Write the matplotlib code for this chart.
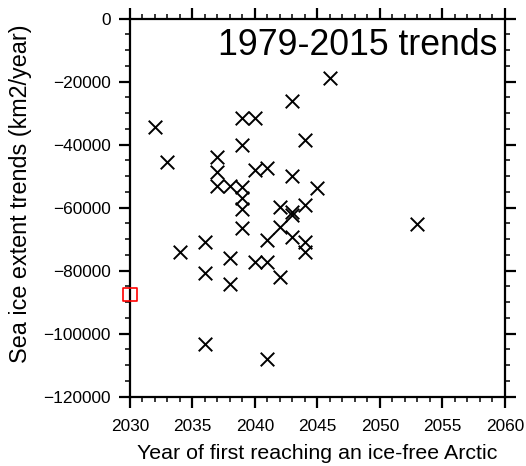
import numpy as np
import matplotlib
matplotlib.use("Agg")
import matplotlib.pyplot as plt
from matplotlib.ticker import MultipleLocator

plt.rcParams['font.family'] = ['Liberation Sans', 'DejaVu Sans']

# year of first ice-free Arctic for each ensemble member
years = [2032, 2033, 2034,
         2036, 2036, 2036,
         2037, 2037, 2037,
         2038, 2038, 2038,
         2039, 2039, 2039, 2039, 2039, 2039,
         2040, 2040, 2040,
         2041, 2041, 2041, 2041,
         2042, 2042, 2042,
         2043, 2043, 2043, 2043, 2043,
         2044, 2044, 2044, 2044,
         2045, 2046, 2053]
# 1979-2015 sea ice extent trends (km2/year)
trends = [-34400, -45600, -74200,
          -70900, -80900, -103200,
          -44000, -48700, -53300,
          -53300, -76100, -84100,
          -31700, -40200, -53500, -57100, -60500, -66600,
          -31700, -48000, -77200,
          -47500, -70300, -77200, -108000,
          -59800, -66100, -82000,
          -26300, -49900, -61500, -62500, -69300,
          -38600, -59300, -70800, -74000,
          -53800, -18900, -65200]

# observations
obs_year = [2030]
obs_trend = [-87600]

fig = plt.figure(figsize=(5.26, 4.66), dpi=100)
ax = fig.add_axes([0.2471, 0.1487, 0.7129, 0.8116])

ax.scatter(years, trends, marker='x', s=95, color='black', linewidths=1.4, zorder=3)
ax.scatter(obs_year, obs_trend, marker='s', s=90, facecolors='none', edgecolors='red',
           linewidths=1.2, zorder=4, clip_on=False)

ax.set_xlim(2030, 2060)
ax.set_ylim(-120000, 0)
ax.xaxis.set_major_locator(MultipleLocator(5))
ax.xaxis.set_minor_locator(MultipleLocator(1))
ax.yaxis.set_major_locator(MultipleLocator(20000))
ax.yaxis.set_minor_locator(MultipleLocator(5000))

for sp in ax.spines.values():
    sp.set_linewidth(1.6)
ax.tick_params(which='both', direction='out', top=True, right=True, labelsize=12.4)
ax.tick_params(which='major', length=8, width=1.6, pad=6)
ax.tick_params(which='minor', length=3.8, width=1.1)
ax.tick_params(axis='x', which='major', pad=8)

ax.set_xlabel("Year of first reaching an ice-free Arctic", fontsize=15.4, labelpad=7)
ax.set_ylabel("Sea ice extent trends (km2/year)", fontsize=16.8)
ax.yaxis.set_label_coords(-0.26, 0.536)

ax.text(0.981, 0.975, "1979-2015 trends", transform=ax.transAxes, ha='right', va='top',
        fontsize=25.7)

plt.savefig("out.png", dpi=100)
